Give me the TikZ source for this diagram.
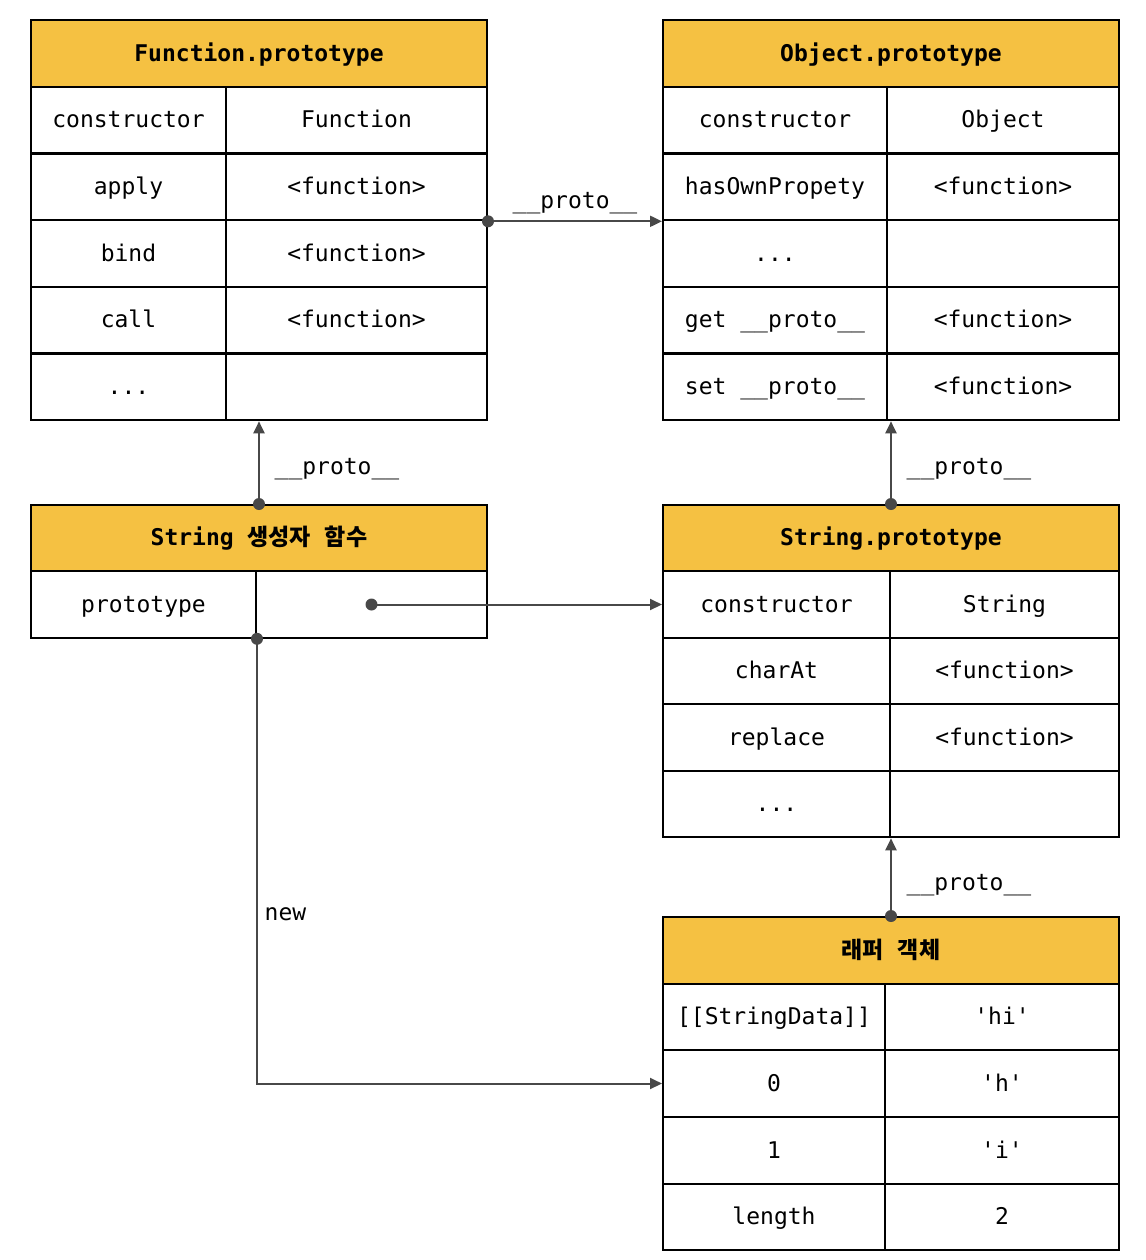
\documentclass[tikz,border=0pt]{standalone}
\usepackage{fontspec}
\setmonofont{DejaVu Sans Mono}
\newfontfamily\krfont{Noto Sans CJK KR}
\usepackage{tikz}
\usetikzlibrary{arrows.meta,calc}
\definecolor{headYellow}{RGB}{245,193,66}
\definecolor{linkGray}{RGB}{72,72,72}
\newcommand{\protolbl}{\_\_proto\_\_}
\newcommand{\monosp}{{\ttfamily\ }}

\begin{document}
\begin{tikzpicture}[x=0.5pt, y=-0.5pt,
    hdr/.style={draw, line width=1pt, fill=headYellow, minimum width=228pt, minimum height=33.5pt, inner sep=0pt, text height=8.6pt, text depth=0.8pt, font=\fontsize{11.5}{14}\selectfont\ttfamily\bfseries},
    cell/.style={draw, line width=1pt, minimum height=33.3pt, inner sep=0pt, text height=8.6pt, text depth=0.8pt, font=\fontsize{11.5}{14}\selectfont\ttfamily},
    link/.style={draw=linkGray, line width=1pt, -{Triangle[length=6pt,width=5.5pt]}},
    lbl/.style={font=\fontsize{11.5}{14}\selectfont\ttfamily, text=black}]
    \useasboundingbox (0,0) rectangle (1146,1260);

    % Function.prototype
    \node[hdr] (fpHead) at (259,53.5) {Function.prototype};
    \node[cell, minimum width=97.5pt] (fpConsK) at (128.5,120) {constructor};
    \node[cell, minimum width=130.5pt] (fpConsV) at (356.5,120) {Function};
    \node[cell, minimum width=97.5pt] (fpApplyK) at (128.5,187) {apply};
    \node[cell, minimum width=130.5pt] (fpApplyV) at (356.5,187) {<function>};
    \node[cell, minimum width=97.5pt] (fpBindK) at (128.5,253.5) {bind};
    \node[cell, minimum width=130.5pt] (fpBindV) at (356.5,253.5) {<function>};
    \node[cell, minimum width=97.5pt] (fpCallK) at (128.5,320) {call};
    \node[cell, minimum width=130.5pt] (fpCallV) at (356.5,320) {<function>};
    \node[cell, minimum width=97.5pt] (fpDotsK) at (128.5,387) {...};
    \node[cell, minimum width=130.5pt] (fpDotsV) at (356.5,387) {};

    % Object.prototype
    \node[hdr] (opHead) at (891,53.5) {Object.prototype};
    \node[cell, minimum width=112pt] (opConsK) at (775,120) {constructor};
    \node[cell, minimum width=116pt] (opConsV) at (1003,120) {Object};
    \node[cell, minimum width=112pt] (opHasK) at (775,187) {hasOwnPropety};
    \node[cell, minimum width=116pt] (opHasV) at (1003,187) {<function>};
    \node[cell, minimum width=112pt] (opDotsK) at (775,253.5) {...};
    \node[cell, minimum width=116pt] (opDotsV) at (1003,253.5) {};
    \node[cell, minimum width=112pt] (opGetK) at (775,320) {get \protolbl};
    \node[cell, minimum width=116pt] (opGetV) at (1003,320) {<function>};
    \node[cell, minimum width=112pt] (opSetK) at (775,387) {set \protolbl};
    \node[cell, minimum width=116pt] (opSetV) at (1003,387) {<function>};

    % String constructor
    \node[hdr, minimum height=33pt] (scHead) at (259,538) {String\monosp{\krfont 생성자\monosp 함수}};
    \node[cell, minimum width=112.5pt] (scProtoK) at (143.5,604.5) {prototype};
    \node[cell, minimum width=115.5pt] (scProtoV) at (371.5,604.5) {};

    % String.prototype
    \node[hdr, minimum height=33pt] (spHead) at (891,538) {String.prototype};
    \node[cell, minimum width=113.5pt] (spConsK) at (776.5,604.5) {constructor};
    \node[cell, minimum width=114.5pt] (spConsV) at (1004.5,604.5) {String};
    \node[cell, minimum width=113.5pt] (spCharK) at (776.5,671) {charAt};
    \node[cell, minimum width=114.5pt] (spCharV) at (1004.5,671) {<function>};
    \node[cell, minimum width=113.5pt] (spRepK) at (776.5,737.5) {replace};
    \node[cell, minimum width=114.5pt] (spRepV) at (1004.5,737.5) {<function>};
    \node[cell, minimum width=113.5pt] (spDotsK) at (776.5,804) {...};
    \node[cell, minimum width=114.5pt] (spDotsV) at (1004.5,804) {};

    % wrapper object
    \node[hdr] (woHead) at (891,950.5) {{\krfont 래퍼\monosp 객체}};
    \node[cell, minimum width=111pt] (woDataK) at (774,1017) {[[StringData]]};
    \node[cell, minimum width=117pt] (woDataV) at (1002,1017) {'hi'};
    \node[cell, minimum width=111pt] (woZeroK) at (774,1083.5) {0};
    \node[cell, minimum width=117pt] (woZeroV) at (1002,1083.5) {'h'};
    \node[cell, minimum width=111pt] (woOneK) at (774,1150.5) {1};
    \node[cell, minimum width=117pt] (woOneV) at (1002,1150.5) {'i'};
    \node[cell, minimum width=111pt] (woLenK) at (774,1217) {length};
    \node[cell, minimum width=117pt] (woLenV) at (1002,1217) {2};

    % links
    \draw[link] (fpApplyV.south east) -- (opHasK.south west) node[lbl, midway, above] {\protolbl};
    \fill[linkGray] (fpApplyV.south east) circle (3pt);

    \draw[link] (scHead.north) -- (scHead.north |- fpDotsV.south) node[lbl, midway, right, xshift=4pt, yshift=-3pt] {\protolbl};
    \fill[linkGray] (scHead.north) circle (3pt);

    \draw[link] (spHead.north) -- (spHead.north |- opSetV.south) node[lbl, midway, right, xshift=4pt, yshift=-3pt] {\protolbl};
    \fill[linkGray] (spHead.north) circle (3pt);

    \draw[link] (scProtoV.center) -- (spConsK.west);
    \fill[linkGray] (scProtoV.center) circle (3pt);

    \draw[link] (scProtoK.south east) |- (woZeroK.west) node[lbl, pos=0.31, right] {new};
    \fill[linkGray] (scProtoK.south east) circle (3pt);

    \draw[link] (woHead.north) -- (woHead.north |- spDotsV.south) node[lbl, midway, right, xshift=4pt, yshift=-4pt] {\protolbl};
    \fill[linkGray] (woHead.north) circle (3pt);
\end{tikzpicture}
\end{document}
